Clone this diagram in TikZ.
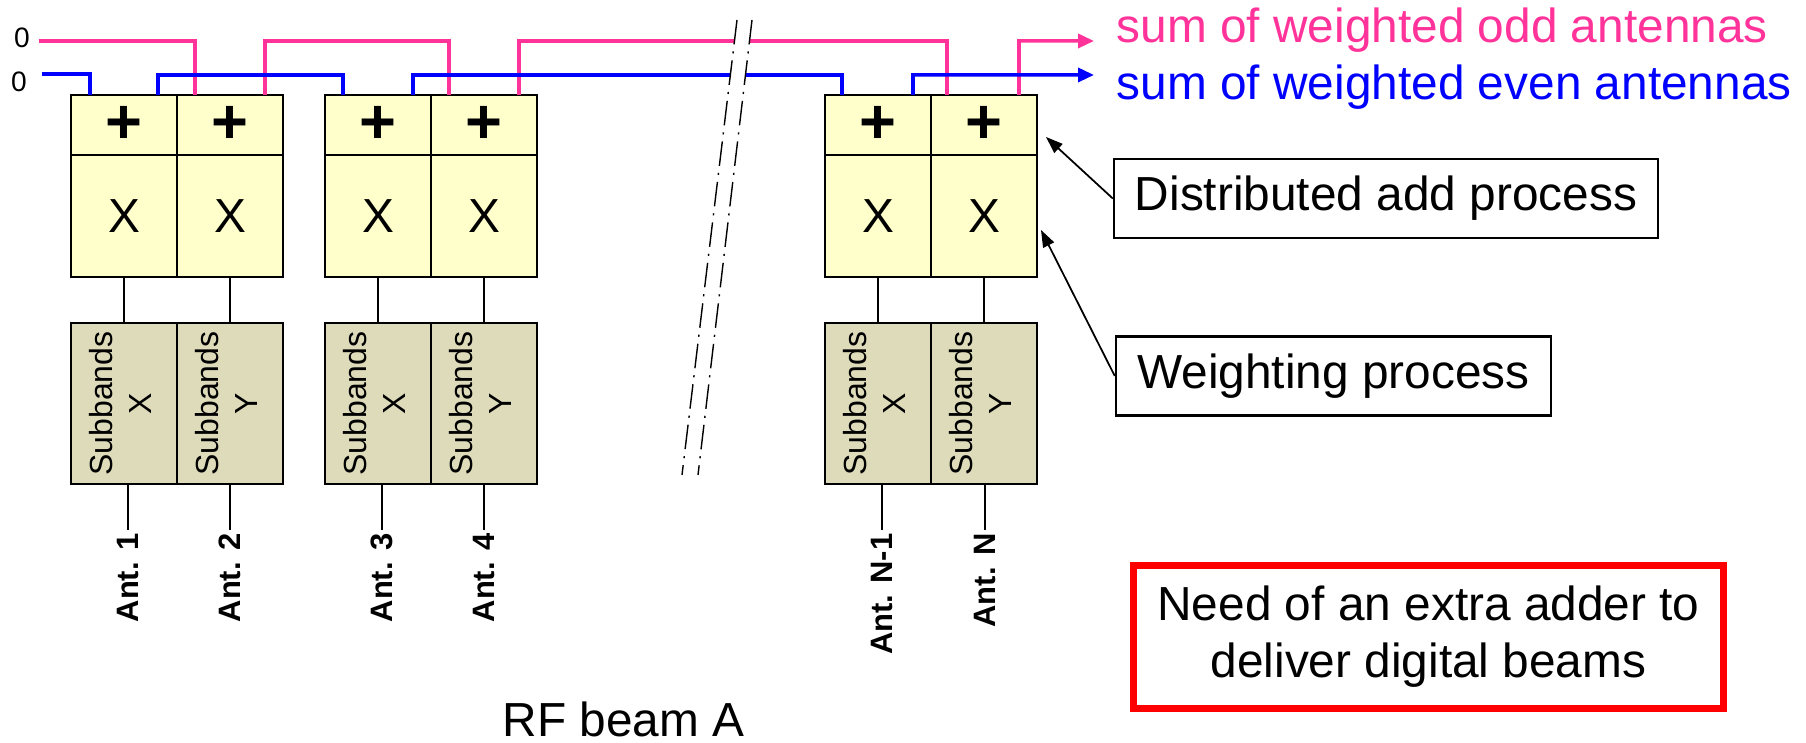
\documentclass[tikz,border=0pt]{standalone}
\usepackage{fontspec}
\setmainfont{Liberation Sans}
\usetikzlibrary{arrows.meta}

\definecolor{oddpink}{HTML}{FF3399}
\definecolor{evenblue}{HTML}{0000FF}
\definecolor{adderfill}{HTML}{FFFFCC}
\definecolor{subfill}{HTML}{DDDBB9}

\begin{document}
\begin{tikzpicture}[
    x=1cm, y=1cm,
    bigtxt/.style={font=\fontsize{13.6}{16.2}\selectfont},
    cell/.style={draw=black, line width=0.7pt, inner sep=0pt, outer sep=0pt, minimum width=1.06cm},
    adder/.style={cell, fill=adderfill, minimum height=0.60cm, font=\fontsize{18}{20}\selectfont\bfseries},
    mult/.style={cell, fill=adderfill, minimum height=1.22cm, bigtxt},
    subband/.style={cell, fill=subfill, minimum height=1.61cm, font=\fontsize{9.1}{11}\selectfont},
    antlbl/.style={rotate=90, anchor=east, inner sep=0.8pt, font=\fontsize{8.8}{10}\selectfont\bfseries},
    zerolbl/.style={inner sep=0.08cm, font=\fontsize{8}{9}\selectfont},
    oddline/.style={draw=oddpink, line width=1pt},
    evenline/.style={draw=evenblue, line width=1pt},
    sumtip/.style={-{Triangle[length=0.16cm, width=0.14cm]}},
    wire/.style={draw=black, line width=0.4pt},
    notebox/.style={draw=black, line width=0.7pt, minimum height=0.79cm, inner sep=0pt, bigtxt},
    callout/.style={-{Triangle[length=0.17cm, width=0.12cm]}, line width=0.5pt},
    breakline/.style={line width=0.4pt, dash pattern=on 7pt off 2pt on 0.6pt off 2pt}
]
\useasboundingbox (0,0) rectangle (18.06,7.43);

% --- Antenna pairs 1/2 and 3/4 ---
\node[adder] (a1) at (1.24, 6.18) {+};
\node[adder] (a2) at (2.30, 6.18) {+};
\node[adder] (a3) at (3.78, 6.18) {+};
\node[adder] (a4) at (4.84, 6.18) {+};

\node[mult] (m1) at (1.24, 5.27) {X};
\node[mult] (m2) at (2.30, 5.27) {X};
\node[mult] (m3) at (3.78, 5.27) {X};
\node[mult] (m4) at (4.84, 5.27) {X};

\node[subband] (s1) at (1.24, 3.395) {\rotatebox{90}{\begin{tabular}{@{}c@{}}Subbands\\X\end{tabular}}};
\node[subband] (s2) at (2.30, 3.395) {\rotatebox{90}{\begin{tabular}{@{}c@{}}Subbands\\Y\end{tabular}}};
\node[subband] (s3) at (3.78, 3.395) {\rotatebox{90}{\begin{tabular}{@{}c@{}}Subbands\\X\end{tabular}}};
\node[subband] (s4) at (4.84, 3.395) {\rotatebox{90}{\begin{tabular}{@{}c@{}}Subbands\\Y\end{tabular}}};

% --- Last antenna pair N-1/N ---
\node[adder] (a5) at (8.78, 6.18) {+};
\node[adder] (a6) at (9.84, 6.18) {+};
\node[mult] (m5) at (8.78, 5.27) {X};
\node[mult] (m6) at (9.84, 5.27) {X};
\node[subband] (s5) at (8.78, 3.395) {\rotatebox{90}{\begin{tabular}{@{}c@{}}Subbands\\X\end{tabular}}};
\node[subband] (s6) at (9.84, 3.395) {\rotatebox{90}{\begin{tabular}{@{}c@{}}Subbands\\Y\end{tabular}}};

% Weighting to subbands
\draw[wire] (m1.south) -- (s1.north);
\draw[wire] (m2.south) -- (s2.north);
\draw[wire] (m3.south) -- (s3.north);
\draw[wire] (m4.south) -- (s4.north);
\draw[wire] (m5.south) -- (s5.north);
\draw[wire] (m6.south) -- (s6.north);

% Antenna inputs
\node[antlbl] (ant1) at (1.28, 2.13) {Ant. 1};
\node[antlbl] (ant2) at (2.30, 2.13) {Ant. 2};
\node[antlbl] (ant3) at (3.82, 2.13) {Ant. 3};
\node[antlbl] (ant4) at (4.84, 2.13) {Ant. 4};
\node[antlbl] (ant5) at (8.82, 2.13) {Ant. N-1};
\node[antlbl] (ant6) at (9.85, 2.13) {Ant. N};
\draw[wire] (s1.south -| ant1.east) -- (ant1.east);
\draw[wire] (s2.south -| ant2.east) -- (ant2.east);
\draw[wire] (s3.south -| ant3.east) -- (ant3.east);
\draw[wire] (s4.south -| ant4.east) -- (ant4.east);
\draw[wire] (s5.south -| ant5.east) -- (ant5.east);
\draw[wire] (s6.south -| ant6.east) -- (ant6.east);

% --- Summation chains ---
\node[zerolbl] (zodd) at (0.22, 7.05) {0};
\node[zerolbl] (zeven) at (0.19, 6.61) {0};
\coordinate (oddend) at (10.94, 7.02);
\coordinate (evenend) at (10.94, 6.68);

\draw[oddline] ([yshift=-0.03cm]zodd.east) -| ([xshift=0.18cm]a2.north west);
\draw[oddline] ([xshift=-0.18cm]a2.north east) -- ++(0,0.54) -| ([xshift=0.18cm]a4.north west);
\draw[oddline] ([xshift=-0.18cm]a4.north east) -- ++(0,0.54) -| ([xshift=0.16cm]a6.north west);
\draw[oddline, sumtip] ([xshift=-0.18cm]a6.north east) -- ++(0,0.54) -- (oddend);

\draw[evenline] ([xshift=0.06cm, yshift=0.08cm]zeven.east) -| ([xshift=0.19cm]a1.north west);
\draw[evenline] ([xshift=-0.19cm]a1.north east) -- ++(0,0.20) -| ([xshift=0.18cm]a3.north west);
\draw[evenline] ([xshift=-0.18cm]a3.north east) -- ++(0,0.20) -| ([xshift=0.17cm]a5.north west);
\draw[evenline, sumtip] ([xshift=-0.18cm]a5.north east) -- ++(0,0.20) -- (evenend);

\node[bigtxt, text=oddpink, anchor=base west, inner sep=0pt] (oddlbl) at (11.16, 7.00) {sum of weighted odd antennas};
\node[bigtxt, text=evenblue, anchor=base west, inner sep=0pt] (evenlbl) at (11.16, 6.43) {sum of weighted even antennas};

% Break marks
\fill[white] (7.37, 7.23) -- (7.52, 7.23) -- (6.98, 2.68) -- (6.82, 2.68) -- cycle;
\draw[breakline] (7.37, 7.23) -- (6.82, 2.68);
\draw[breakline] (7.52, 7.23) -- (6.98, 2.68);

% --- Notes ---
\node[notebox, minimum width=5.44cm] (addnote) at (13.86, 5.445) {Distributed add process};
\node[notebox, minimum width=4.35cm] (wnote) at (13.335, 3.67) {Weighting process};
\draw[callout] (addnote.west) -- ([xshift=0.09cm, yshift=-0.12cm]a6.east);
\draw[callout] (wnote.west) -- ([xshift=0.04cm, yshift=-0.14cm]m6.east);

\node[draw=red, line width=0.07cm, minimum width=5.90cm, minimum height=1.43cm, align=center, bigtxt] (need) at (14.285, 1.06) {Need of an extra adder to\\deliver digital beams};

\node[bigtxt, anchor=base west, inner sep=0pt] (rfbeam) at (5.02, 0.06) {RF beam A};

\end{tikzpicture}
\end{document}
